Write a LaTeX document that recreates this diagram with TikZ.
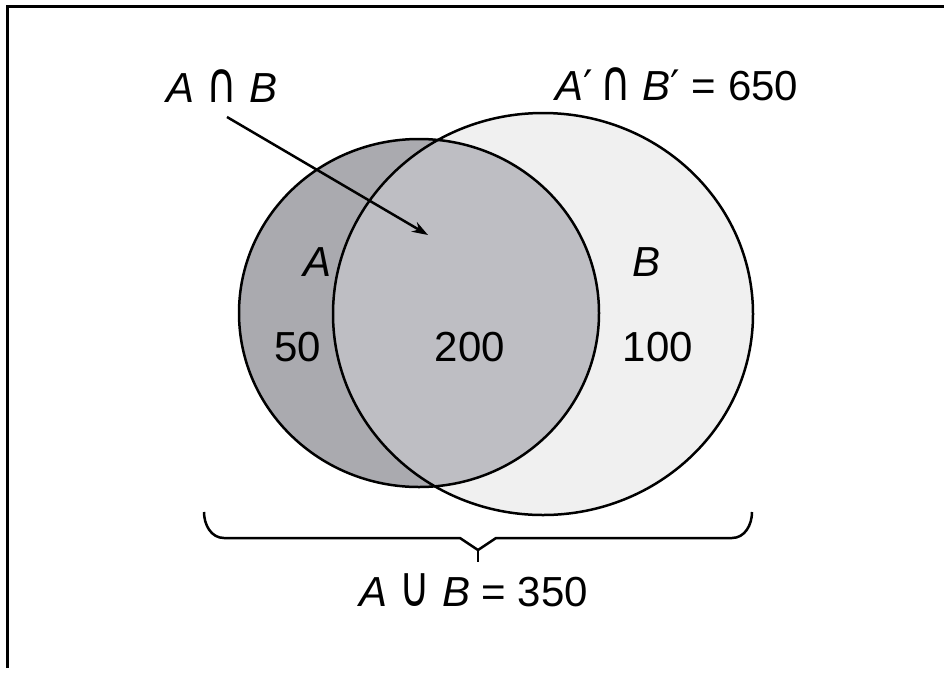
\documentclass[tikz,border=0pt]{standalone}
\usepackage{fontspec}
\setmainfont{Liberation Sans}
\newfontfamily\symf{DejaVu Sans}
\usetikzlibrary{arrows.meta}
\definecolor{aonly}{RGB}{170,170,175}
\definecolor{both}{RGB}{190,190,195}
\definecolor{bonly}{RGB}{240,240,240}
\newcommand{\mycap}{\scalebox{1}[1.35]{\symf ∩}}
\newcommand{\mycup}{\scalebox{1}[1.35]{\symf ∪}}
\tikzset{
  lbl/.style={inner sep=0pt, font=\fontsize{42}{50}\selectfont},
  outline/.style={line width=2.5pt, black},
  conn/.style={line width=2.5pt, black, -{Stealth[length=16pt,width=11pt]}},
  frame/.style={line width=3pt, black}
}
\begin{document}
\begin{tikzpicture}[x=1pt,y=-1pt]
\useasboundingbox (0,0) rectangle (944,673);
% frame
\draw[frame] (7,668) -- (7,6) -- (944,6);
% fills
\fill[bonly] (543,314) ellipse [x radius=210, y radius=201];
\fill[aonly] (419,313) ellipse [x radius=180, y radius=174];
\begin{scope}
  \clip (419,313) ellipse [x radius=180, y radius=174];
  \fill[both] (543,314) ellipse [x radius=210, y radius=201];
\end{scope}
% outlines
\draw[outline] (543,314) ellipse [x radius=210, y radius=201];
\draw[outline] (419,313) ellipse [x radius=180, y radius=174];
% labels
\node[lbl] (ab) at (222,86) {\textit{A} \mycap{} \textit{B}};
\node[lbl] (comp) at (677,84) {\textit{A}{\symf ′}\,\mycap{} \textit{B}{\symf ′} = 650};
\node[lbl] (la) at (318,262) {\textit{A}};
\node[lbl] (lb) at (646,262) {\textit{B}};
\node[lbl] (n50) at (298,347) {50};
\node[lbl] (n200) at (470,347) {200};
\node[lbl] (n100) at (658,347) {100};
\node[lbl] (union) at (474,590) {\textit{A} \mycup{} \textit{B} = 350};
% arrow
\coordinate (arrS) at (227,117);
\coordinate (arrE) at (428,235);
\draw[conn] (arrS) -- (arrE);
% brace
\coordinate (brL) at (204,512);
\coordinate (brR) at (752,512);
\coordinate (brM) at (478,550);
\coordinate (brT) at (478,562);
\draw[outline, line join=round] (brL) to[out=-90,in=180] (224,538) -- (460,538) -- (brM) -- (496,538) -- (732,538) to[out=0,in=-90] (brR);
\draw[outline] (brM) -- (brT);
\end{tikzpicture}
\end{document}
